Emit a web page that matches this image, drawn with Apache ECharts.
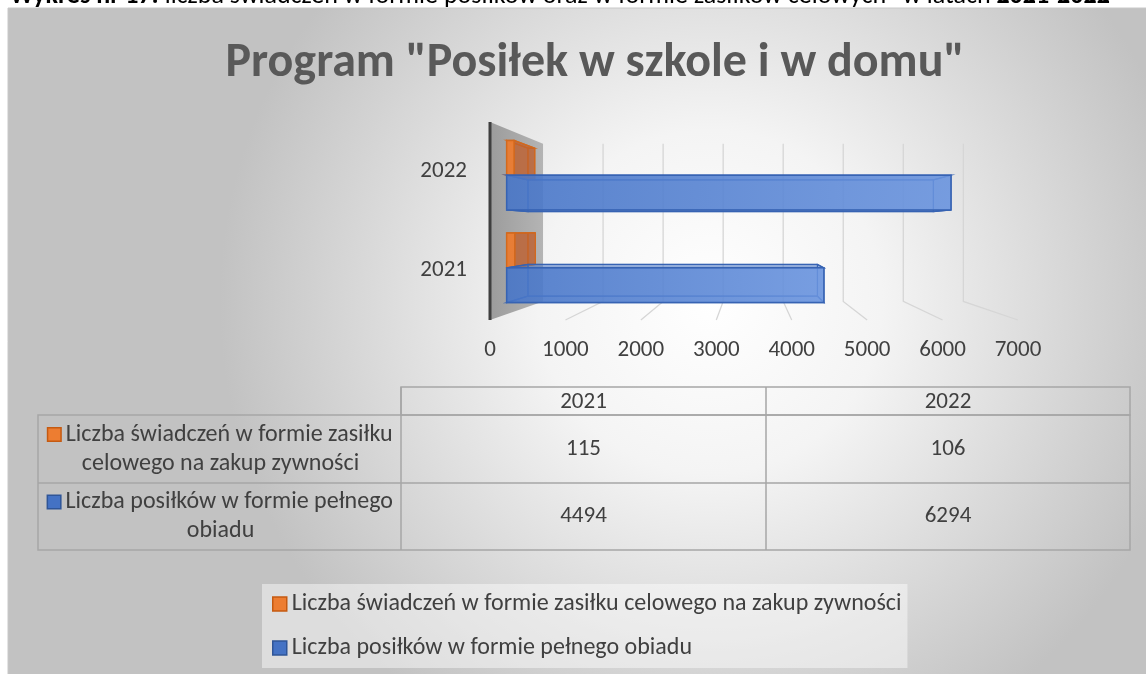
<!DOCTYPE html>
<html>
<head>
<meta charset="utf-8">
<script src="https://cdn.jsdelivr.net/npm/echarts@6.0.0/dist/echarts.min.js"></script>
<style>
  html, body { margin: 0; padding: 0; background: #fff; }
</style>
</head>
<body>
<div id="main" style="width: 1146px; height: 674px;"></div>
<script type="text/javascript">
// dane
var lata = ['2021', '2022'];
var zasilki = [115, 106];
var posilki = [4494, 6294];
var nazwy = [
  'Liczba świadczeń w formie zasiłku celowego na zakup zywności',
  'Liczba posiłków w formie pełnego obiadu'
];
var osX = [0, 1000, 2000, 3000, 4000, 5000, 6000, 7000];
var tytul = 'Program "Posiłek w szkole i w domu"';
var podpis = 'Wykres nr 17: liczba świadczeń w formie posiłków oraz w formie zasiłków celowych" w latach 2021-2022';

var FONT = "Carlito, Lato, sans-serif";
var TXT = '#404040';

// prosta perspektywa: punkt zbiegu i glebokosci
var VP = [750, 229];
var G_PRZOD = 0.936, G_TYL = 0.854, G_SCIANA = 0.796;
function proj(p, f) {
  return [VP[0] + (p[0] - VP[0]) * f, VP[1] + (p[1] - VP[1]) * f];
}

function box(gora, kol) {
  return function (params, api) {
    var c = api.value(1);
    var p0 = api.coord([0, c]);
    var p1 = api.coord([api.value(0), c]);
    var h = api.size([0, 1])[1] * 0.375;
    var yt = gora ? p0[1] - h : p0[1];
    var yb = yt + h;
    function face(f) {
      return [proj([p0[0], yt], f), proj([p1[0], yt], f), proj([p1[0], yb], f), proj([p0[0], yb], f)];
    }
    var F = face(G_PRZOD), B = face(G_TYL);
    var kids = [{
      type: 'polygon', shape: { points: B },
      style: { fill: kol.bok, stroke: kol.linia, lineWidth: 1 }
    }];
    [[3, 0], [2, 3], [0, 1], [1, 2]].forEach(function (s) {
      kids.push({
        type: 'polygon',
        shape: { points: [F[s[0]], F[s[1]], B[s[1]], B[s[0]]] },
        style: { fill: kol.bok, stroke: kol.linia, lineWidth: 1.2 }
      });
    });
    kids.push({
      type: 'polygon', shape: { points: F },
      style: {
        fill: new echarts.graphic.LinearGradient(0, 0, 1, 0, [
          { offset: 0, color: kol.p1 }, { offset: 1, color: kol.p2 }
        ]),
        stroke: kol.linia, lineWidth: 1.5
      }
    });
    return { type: 'group', children: kids };
  };
}

var ORANGE = { p1: 'rgba(237,125,49,0.9)', p2: 'rgba(237,125,49,0.9)', bok: 'rgba(190,95,45,0.55)', linia: '#d2691e' };
var BLUE = { p1: 'rgba(72,118,200,0.85)', p2: 'rgba(108,150,224,0.85)', bok: 'rgba(68,114,196,0.35)', linia: '#3763b3' };

// tabela (graphic)
var TX = [38, 401, 766, 1130];
var TY = [387, 415, 483, 550];
function zawin(t, n) {
  var w = t.split(' '), lines = [''];
  w.forEach(function (s) {
    var l = lines[lines.length - 1];
    if (l && (l + ' ' + s).length > n) lines.push(s);
    else lines[lines.length - 1] = l ? l + ' ' + s : s;
  });
  return lines;
}
var tabela = [];
var ramka = { stroke: '#a6a6a6', lineWidth: 1.5, fill: null };
tabela.push({ type: 'rect', shape: { x: TX[1], y: TY[0], width: TX[3] - TX[1], height: TY[1] - TY[0] }, style: ramka });
tabela.push({ type: 'rect', shape: { x: TX[0], y: TY[1], width: TX[3] - TX[0], height: TY[3] - TY[1] }, style: ramka });
tabela.push({ type: 'line', shape: { x1: TX[0], y1: TY[2], x2: TX[3], y2: TY[2] }, style: ramka });
tabela.push({ type: 'line', shape: { x1: TX[1], y1: TY[0], x2: TX[1], y2: TY[3] }, style: ramka });
tabela.push({ type: 'line', shape: { x1: TX[2], y1: TY[0], x2: TX[2], y2: TY[3] }, style: ramka });
lata.forEach(function (r, i) {
  tabela.push({ type: 'text', x: (TX[i + 1] + TX[i + 2]) / 2, y: (TY[0] + TY[1]) / 2 + 1,
    style: { text: r, font: '23px ' + FONT, fill: TXT, align: 'center', verticalAlign: 'middle' } });
});
var serieTab = [zasilki, posilki];
var kolTab = [['#ED7D31', '#C55A11'], ['#4472C4', '#2F5597']];
serieTab.forEach(function (arr, j) {
  var yc = (TY[j + 1] + TY[j + 2]) / 2;
  var lines = zawin(nazwy[j], 34);
  tabela.push({ type: 'text', x: (TX[0] + TX[1]) / 2 + 1, y: yc,
    style: {
      text: '{i|}' + ' ' + lines[0] + '\n' + lines.slice(1).join(' '),
      font: '24px ' + FONT, fill: TXT, align: 'center', verticalAlign: 'middle', lineHeight: 29,
      rich: { i: { width: 12, height: 12, backgroundColor: kolTab[j][0], borderColor: kolTab[j][1], borderWidth: 1.5 } }
    } });
  arr.forEach(function (v, i) {
    tabela.push({ type: 'text', x: (TX[i + 1] + TX[i + 2]) / 2, y: yc,
      style: { text: String(v), font: '23px ' + FONT, fill: TXT, align: 'center', verticalAlign: 'middle' } });
  });
});

var myChart = echarts.init(document.getElementById('main'));
var option = {
  animation: false,
  title: {
    text: tytul,
    left: 590, top: 35, textAlign: 'center',
    textStyle: { fontFamily: FONT, fontSize: 48, fontWeight: 'bold', color: '#595959' }
  },
  graphic: [{
    type: 'rect', z: -100, silent: true,
    shape: { x: 8, y: 8, width: 1170, height: 700 },
    style: {
      fill: new echarts.graphic.RadialGradient(0.6, 0.42, 0.7, [
        { offset: 0, color: '#ffffff' }, { offset: 0.35, color: '#f4f4f4' }, { offset: 1, color: '#c2c2c2' }
      ]),
      stroke: '#c8c8c8', lineWidth: 1
    }
  }, {
    type: 'text', x: 10, y: 9, silent: true,
    style: {
      text: '{b|Wykres nr 17:} ' + podpis.replace('Wykres nr 17: ', '').replace('2021-2022', '{b|2021-2022}'),
      font: '26px ' + FONT, fill: '#000', verticalAlign: 'bottom',
      rich: { b: { fontWeight: 'bold', fontFamily: FONT, fontSize: 26 } }
    }
  }].concat(tabela),
  legend: {
    orient: 'vertical', left: 262, top: 584,
    padding: [8, 6, 8, 10], itemGap: 20,
    itemWidth: 14, itemHeight: 14,
    backgroundColor: 'rgba(255,255,255,0.45)',
    textStyle: { fontFamily: FONT, fontSize: 24, color: TXT, padding: [0, 0, 0, 0] },
    data: [
      { name: nazwy[0], icon: 'rect', itemStyle: { color: '#ED7D31', borderColor: '#C55A11', borderWidth: 1.5 } },
      { name: nazwy[1], icon: 'rect', itemStyle: { color: '#4472C4', borderColor: '#2F5597', borderWidth: 1.5 } }
    ]
  },
  grid: { left: 490, right: 128, top: 122, bottom: 354 },
  xAxis: {
    type: 'value', min: 0, max: 7000, interval: 1000,
    axisLine: { show: false }, axisTick: { show: false }, splitLine: { show: false },
    axisLabel: { fontFamily: FONT, fontSize: 23, color: TXT, margin: 19, formatter: function (v) { return String(v); } }
  },
  yAxis: {
    type: 'category', data: lata,
    axisLine: { show: false }, axisTick: { show: false },
    axisLabel: { fontFamily: FONT, fontSize: 23, color: TXT, margin: 23 }
  },
  series: [{
    name: 'siatka', type: 'custom', silent: true, z: 1,
    data: osX.map(function (v) { return [v, 0]; }),
    renderItem: function (params, api) {
      var cs = params.coordSys;
      var x = api.coord([api.value(0), 0])[0];
      var top = cs.y, bot = cs.y + cs.height;
      if (api.value(0) === 0) {
        var a = proj([x, top], G_SCIANA), b = proj([x, bot], G_SCIANA);
        return { type: 'group', children: [{
          type: 'polygon', shape: { points: [[x, top], a, b, [x, bot]] },
          style: { fill: new echarts.graphic.LinearGradient(0, 0, 1, 0, [
            { offset: 0, color: '#9c9c9c' }, { offset: 1, color: '#b4b4b4' }]) }
        }, {
          type: 'line', shape: { x1: x, y1: top, x2: x, y2: bot },
          style: { stroke: '#3f3f3f', lineWidth: 3 }
        }] };
      }
      var t = proj([x, top], G_SCIANA), d = proj([x, bot], G_SCIANA);
      return { type: 'polyline', shape: { points: [t, d, [x, bot]] },
        style: { stroke: '#d6d6d6', lineWidth: 1.3, fill: null } };
    }
  }, {
    name: nazwy[0], type: 'custom', z: 3,
    itemStyle: { color: '#ED7D31' },
    data: zasilki.map(function (v, i) { return [v, i]; }),
    renderItem: box(true, ORANGE)
  }, {
    name: nazwy[1], type: 'custom', z: 3,
    itemStyle: { color: '#4472C4' },
    data: posilki.map(function (v, i) { return [v, i]; }),
    renderItem: box(false, BLUE)
  }]
};
myChart.setOption(option);
</script>
</body>
</html>
